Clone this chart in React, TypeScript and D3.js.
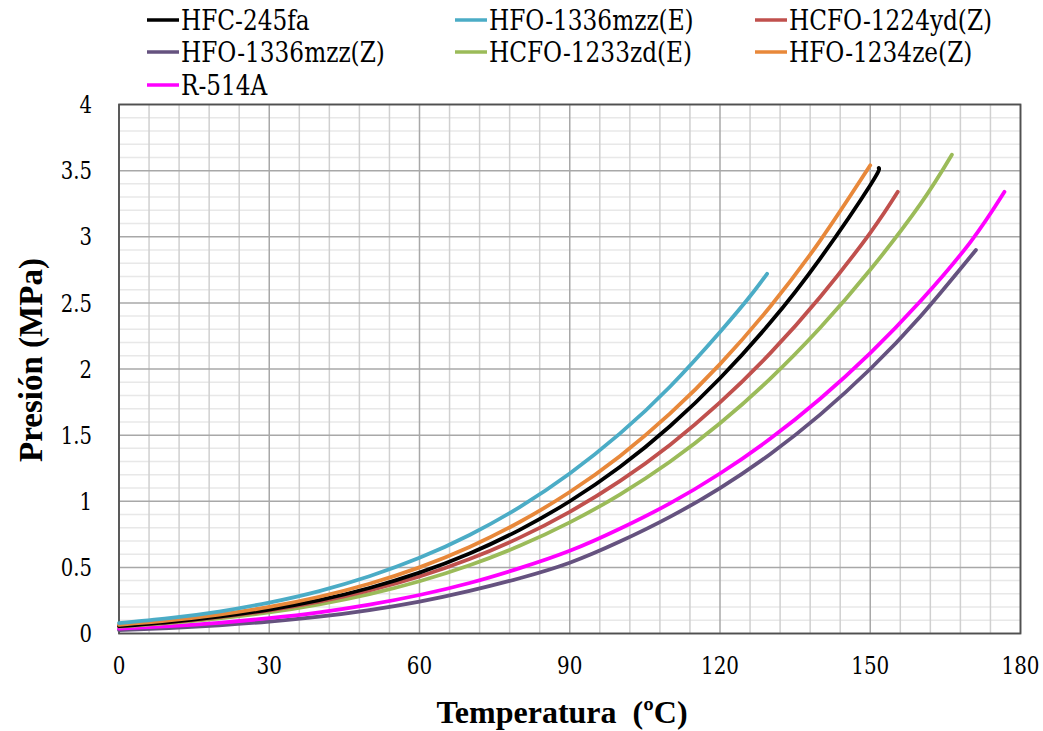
import React from "react";
import * as d3 from "d3";

const xTicks = [0, 30, 60, 90, 120, 150, 180];
const yTicks = [0, 0.5, 1, 1.5, 2, 2.5, 3, 3.5, 4];
const yTickLabels = ["0", "0.5", "1", "1.5", "2", "2.5", "3", "3.5", "4"];

const seriesNames = [
  "HFC-245fa",
  "HFO-1336mzz(E)",
  "HCFO-1224yd(Z)",
  "HFO-1336mzz(Z)",
  "HCFO-1233zd(E)",
  "HFO-1234ze(Z)",
  "R-514A",
];
const seriesColors = ["#000000", "#4bacc6", "#c0504d", "#65527f", "#9bbb59", "#e8883a", "#ff00ff"];

// temperatures (ºC) and pressures (MPa) for each fluid
const tHFC245fa = [0, 10, 20, 30, 40, 50, 60, 70, 80, 90, 100, 110, 120, 130, 140, 150, 151.7];
const pHFC245fa = [0.055, 0.086, 0.127, 0.181, 0.252, 0.344, 0.46, 0.605, 0.784, 1.0, 1.259, 1.567, 1.93, 2.349, 2.835, 3.39, 3.52];

const tHFO1336E = [0, 10, 20, 30, 40, 50, 60, 70, 80, 90, 100, 110, 120, 126, 129.4];
const pHFO1336E = [0.078, 0.116, 0.166, 0.234, 0.321, 0.433, 0.572, 0.745, 0.956, 1.21, 1.511, 1.866, 2.28, 2.55, 2.72];

const tHCFO1224 = [0, 10, 20, 30, 40, 50, 60, 70, 80, 90, 100, 110, 120, 130, 140, 150, 155.5];
const pHCFO1224 = [0.056, 0.085, 0.123, 0.174, 0.24, 0.325, 0.431, 0.563, 0.725, 0.92, 1.152, 1.426, 1.747, 2.118, 2.544, 3.03, 3.34];

const tHFO1336Z = [0, 10, 20, 30, 40, 50, 60, 70, 80, 90, 100, 110, 120, 130, 140, 150, 160, 171.1];
const pHFO1336Z = [0.026, 0.041, 0.062, 0.09, 0.127, 0.177, 0.241, 0.322, 0.418, 0.535, 0.695, 0.882, 1.1, 1.356, 1.655, 2.0, 2.397, 2.9];

const tHCFO1233 = [0, 10, 20, 30, 40, 50, 60, 70, 80, 90, 100, 110, 120, 130, 140, 150, 160, 166.3];
const pHCFO1233 = [0.053, 0.079, 0.114, 0.16, 0.221, 0.298, 0.395, 0.516, 0.663, 0.84, 1.051, 1.299, 1.59, 1.926, 2.312, 2.75, 3.246, 3.62];

const tHFO1234ze = [0, 10, 20, 30, 40, 50, 60, 70, 80, 90, 100, 110, 120, 130, 140, 150];
const pHFO1234ze = [0.066, 0.099, 0.143, 0.201, 0.278, 0.376, 0.5, 0.654, 0.843, 1.07, 1.341, 1.662, 2.037, 2.471, 2.971, 3.54];

const tR514A = [0, 10, 20, 30, 40, 50, 60, 70, 80, 90, 100, 110, 120, 130, 140, 150, 160, 170, 176.8];
const pR514A = [0.037, 0.056, 0.081, 0.116, 0.16, 0.218, 0.291, 0.382, 0.494, 0.625, 0.792, 0.984, 1.21, 1.472, 1.775, 2.12, 2.512, 2.96, 3.34];

const seriesT = [tHFC245fa, tHFO1336E, tHCFO1224, tHFO1336Z, tHCFO1233, tHFO1234ze, tR514A];
const seriesP = [pHFC245fa, pHFO1336E, pHCFO1224, pHFO1336Z, pHCFO1233, pHFO1234ze, pR514A];

// draw order (back to front)
const drawOrder = [3, 6, 4, 2, 0, 5, 1];

const W = 1043;
const H = 731;
const plot = { left: 119, right: 1020.5, top: 104.5, bottom: 633.5 };

const serifBold = "'Liberation Serif', 'Times New Roman', serif";
const serifReg = "'DejaVu Serif', serif";

function SText(props: {
  x: number;
  y: number;
  sx: number;
  size: number;
  anchor?: string;
  children: React.ReactNode;
}) {
  const { x, y, sx, size, anchor, children } = props;
  return (
    <text
      transform={`translate(${x},${y}) scale(${sx},1)`}
      dy="0.36em"
      textAnchor={anchor || "start"}
      fontSize={size}
      fontFamily={serifReg}
      fill="#000"
    >
      {children}
    </text>
  );
}

export default function App() {
  const x = d3.scaleLinear().domain([0, 180]).range([plot.left, plot.right]);
  const y = d3.scaleLinear().domain([0, 4]).range([plot.bottom, plot.top]);

  const minorX = d3.range(0, 181, 6).filter((v) => v % 30 !== 0);
  const minorY = d3.range(0, 41, 1).map((v) => v / 10).filter((v, i) => i % 5 !== 0);

  const line = d3
    .line<[number, number]>()
    .x((d) => x(d[0]))
    .y((d) => y(d[1]))
    .curve(d3.curveNatural);

  const legendCols = [147, 455, 755];
  const legendRows = [20, 52, 85];

  return (
    <svg width={W} height={H} style={{ position: "absolute", left: 0, top: 0, background: "#fff" }}>
      <rect x={0} y={0} width={W} height={H} fill="#fff" />
      {minorY.map((v) => (
        <line key={"my" + v} x1={plot.left} x2={plot.right} y1={y(v)} y2={y(v)} stroke="#e8e8e8" strokeWidth={1.5} />
      ))}
      {minorX.map((v) => (
        <line key={"mx" + v} x1={x(v)} x2={x(v)} y1={plot.top} y2={plot.bottom} stroke="#d0d0d0" strokeWidth={1.5} />
      ))}
      {yTicks.map((v) => (
        <line key={"gy" + v} x1={plot.left} x2={plot.right} y1={y(v)} y2={y(v)} stroke="#a8a8a8" strokeWidth={1.5} />
      ))}
      {xTicks.map((v) => (
        <line key={"gx" + v} x1={x(v)} x2={x(v)} y1={plot.top} y2={plot.bottom} stroke="#a8a8a8" strokeWidth={1.5} />
      ))}
      <rect
        x={plot.left}
        y={plot.top}
        width={plot.right - plot.left}
        height={plot.bottom - plot.top}
        fill="none"
        stroke="#505050"
        strokeWidth={1.8}
      />
      {drawOrder.map((i) => {
        const pts: [number, number][] = seriesT[i].map((t, k) => [t, seriesP[i][k]]);
        return (
          <path
            key={seriesNames[i]}
            d={line(pts) || ""}
            fill="none"
            stroke={seriesColors[i]}
            strokeWidth={3.8}
            strokeLinecap="round"
          />
        );
      })}
      {yTicks.map((v, k) => (
        <SText key={"yl" + v} x={92} y={y(v)} sx={0.82} size={24} anchor="end">
          {yTickLabels[k]}
        </SText>
      ))}
      {xTicks.map((v) => (
        <SText key={"xl" + v} x={x(v)} y={665} sx={0.83} size={24} anchor="middle">
          {v}
        </SText>
      ))}
      <text
        x={562}
        y={723}
        textAnchor="middle"
        fontSize={32}
        fontWeight="bold"
        fontFamily={serifBold}
        fill="#000"
        style={{ whiteSpace: "pre" }}
      >
        {"Temperatura  (ºC)"}
      </text>
      <text
        transform={`translate(30,360) rotate(-90)`}
        dy="0.35em"
        textAnchor="middle"
        fontSize={33}
        fontWeight="bold"
        fontFamily={serifBold}
        fill="#000"
      >
        Presión (MPa)
      </text>
      {seriesNames.map((name, i) => {
        const col = i % 3;
        const row = Math.floor(i / 3);
        const lx = legendCols[col];
        const ly = legendRows[row];
        return (
          <g key={"lg" + name}>
            <line x1={lx} x2={lx + 32} y1={ly} y2={ly} stroke={seriesColors[i]} strokeWidth={3.5} />
            <SText x={lx + 34} y={ly} sx={0.86} size={27}>
              {name}
            </SText>
          </g>
        );
      })}
    </svg>
  );
}
